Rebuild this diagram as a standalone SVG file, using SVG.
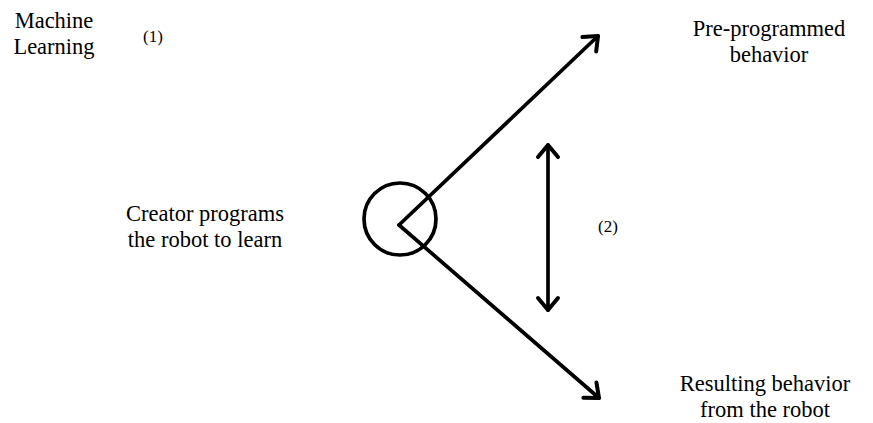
<svg xmlns="http://www.w3.org/2000/svg" width="873" height="423" viewBox="0 0 873 423">
  <style>
    .lbl { font-family: "Liberation Serif", "Times New Roman", serif; font-size: 22.5px; fill: #000; text-anchor: middle; }
    .num { font-family: "Liberation Serif", "Times New Roman", serif; font-size: 17px; fill: #000; }
    .ln { stroke: #000; stroke-width: 3.7; fill: none; stroke-linecap: round; stroke-linejoin: round; }
  </style>
  <defs>
    <marker id="head" markerUnits="userSpaceOnUse" markerWidth="30" markerHeight="30" viewBox="-16 -15 20 30" refX="0" refY="0" orient="auto-start-reverse">
      <path d="M -12 -10 L 0 0 L -12 10" fill="none" stroke="#000" stroke-width="4" stroke-linecap="round" stroke-linejoin="round"/>
    </marker>
  </defs>
  <rect width="873" height="423" fill="#fff"/>

  <g id="connectors">
    <line class="ln" x1="399" y1="225" x2="598" y2="36" marker-end="url(#head)"/>
    <line class="ln" x1="399" y1="225" x2="599" y2="398" marker-end="url(#head)"/>
    <line class="ln" x1="548" y1="145" x2="548" y2="310" marker-start="url(#head)" marker-end="url(#head)"/>
  </g>

  <g id="creator-node">
    <circle cx="400" cy="219" r="36" fill="none" stroke="#000" stroke-width="3.7"/>
  </g>

  <g id="title">
    <text class="lbl" x="54" y="28">Machine</text>
    <text class="lbl" x="54" y="54">Learning</text>
  </g>
  <g id="label-1">
    <text class="num" x="143" y="42">(1)</text>
  </g>
  <g id="label-creator">
    <text class="lbl" x="205" y="221">Creator programs</text>
    <text class="lbl" x="205" y="247">the robot to learn</text>
  </g>
  <g id="label-preprogrammed">
    <text class="lbl" x="769" y="36">Pre-programmed</text>
    <text class="lbl" x="769" y="62">behavior</text>
  </g>
  <g id="label-2">
    <text class="num" x="598" y="232">(2)</text>
  </g>
  <g id="label-resulting">
    <text class="lbl" x="765" y="391">Resulting behavior</text>
    <text class="lbl" x="765" y="417">from the robot</text>
  </g>
</svg>
